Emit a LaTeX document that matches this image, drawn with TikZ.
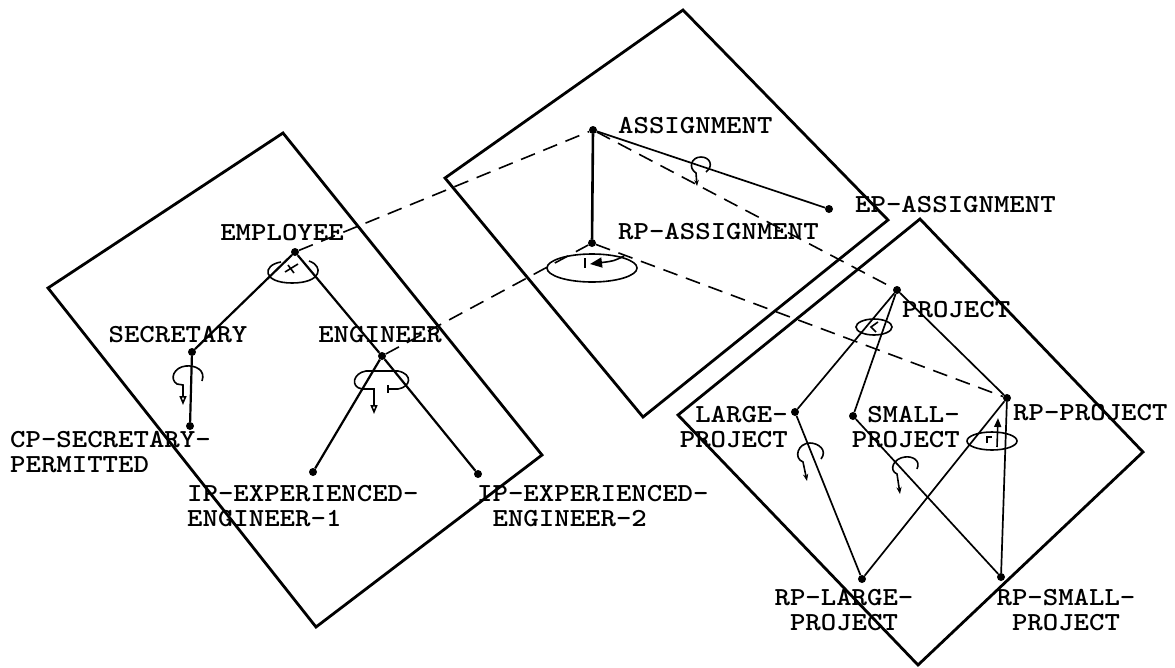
\documentclass[tikz,border=0pt]{standalone}
\usetikzlibrary{arrows.meta, positioning, calc}
\newcommand{\tw}[1]{\scalebox{1.13}[1]{#1}}

\begin{document}
\begin{tikzpicture}[x=1pt, y=-1pt,
    plane/.style={line width=2.8pt, line join=miter},
    arc/.style={line width=2.2pt},
    thinarc/.style={line width=1.7pt},
    link/.style={line width=1.6pt, dash pattern=on 15pt off 9pt},
    curl/.style={line width=1.6pt},
    dot/.style={circle, fill, inner sep=0pt, minimum size=8pt},
    lbl/.style={font=\ttfamily\bfseries\fontsize{26}{25}\selectfont, inner sep=0pt}]
    \useasboundingbox (0,0) rectangle (1175,667);

    % Planes
    \draw[plane] (48,288) -- (283,133) -- (542,455) -- (316,627) -- cycle;
    \draw[plane] (445,178) -- (683,10) -- (888,220) -- (643,417) -- cycle;
    \draw[plane] (678,415) -- (920,219) -- (1143,452) -- (918,665) -- cycle;

    % Employee plane
    \node[dot] (employee) at (295,252) {};
    \node[dot] (secretary) at (192,352) {};
    \node[dot] (cpsec) at (190,426) {};
    \node[dot] (engineer) at (382,356) {};
    \node[dot] (ipeng1) at (313,472) {};
    \node[dot] (ipeng2) at (478,474) {};

    \node[lbl] (employee-lbl) at (282,233) {\tw{EMPLOYEE}};
    \node[lbl] (secretary-lbl) at (178,335) {\tw{SECRETARY}};
    \node[lbl, align=left, anchor=west] (cpsec-lbl) at (10,452)
      {\tw{CP-SECRETARY-}\\\tw{PERMITTED}};
    \node[lbl] (engineer-lbl) at (380,335) {\tw{ENGINEER}};
    \node[lbl, align=left, anchor=west] (ipeng1-lbl) at (187,506)
      {\tw{IP-EXPERIENCED-}\\\tw{ENGINEER-1}};
    \node[lbl, align=left, anchor=west] (ipeng2-lbl) at (477,506)
      {\tw{IP-EXPERIENCED-}\\\tw{\hphantom{I}ENGINEER-2}};

    \draw[arc] (employee) -- (secretary);
    \draw[arc] (employee) -- (engineer);
    \draw[arc] (secretary) -- (cpsec);
    \draw[arc] (engineer) -- (ipeng1);
    \draw[arc] (engineer) -- (ipeng2);

    % Loops
    \draw[curl] (281,262) .. controls (262,265) and (262,283) .. (292,283)
      .. controls (322,283) and (324,266) .. (309,261);
    \draw[curl] (298,264) -- (285,272) (288,265) -- (294,273);
    \draw[curl, -{Triangle[open, length=9pt, width=7pt]}]
      (202,381) .. controls (206,370) and (195,365) .. (186,366)
      .. controls (174,367) and (169,379) .. (177,384) -- (183,385) -- (183,405);
    \draw[curl, -{Triangle[open, length=9pt, width=7pt]}]
      (388,389) -- (398,389) .. controls (411,387) and (413,374) .. (398,371)
      -- (366,371) .. controls (353,373) and (350,387) .. (362,389)
      -- (374,389) -- (374,414);
    \draw[curl] (388,385) -- (388,393);

    % Assignment plane
    \node[dot] (assign) at (593,130) {};
    \node[dot] (rpassign) at (592,243) {};
    \node[dot] (epassign) at (829,209) {};

    \node[lbl, anchor=west] (assign-lbl) at (618,126) {\tw{ASSIGNMENT}};
    \node[lbl, anchor=west] (rpassign-lbl) at (618,232) {\tw{RP-ASSIGNMENT}};
    \node[lbl, anchor=west] (epassign-lbl) at (855,205) {\tw{EP-ASSIGNMENT}};

    \draw[line width=2.6pt] (assign) -- (rpassign);
    \draw[thinarc] (assign) -- (epassign);

    \draw[curl, -{Stealth[length=6pt]}]
      (706,172) .. controls (714,166) and (710,157) .. (701,157)
      .. controls (691,157) and (688,168) .. (696,173) -- (697,186);
    \draw[curl] (592,268) ellipse [x radius=45pt, y radius=14pt];
    \draw[curl, -{Triangle[length=12pt, width=10pt]}]
      (624,256) .. controls (614,261) .. (590,264);
    \draw[curl] (585,258) -- (585,268);

    % Project plane
    \node[dot] (project) at (897,290) {};
    \node[dot] (large) at (795,412) {};
    \node[dot] (small) at (853,416) {};
    \node[dot] (rpproject) at (1007,398) {};
    \node[dot] (rplarge) at (862,579) {};
    \node[dot] (rpsmall) at (1001,577) {};

    \node[lbl, anchor=west] (project-lbl) at (902,310) {\tw{PROJECT}};
    \node[lbl, align=right, anchor=east] (large-lbl) at (788,427)
      {\tw{LARGE-}\\\tw{PROJECT}};
    \node[lbl, align=right, anchor=east] (small-lbl) at (960,427)
      {\tw{SMALL-}\\\tw{PROJECT}};
    \node[lbl, anchor=west] (rpproject-lbl) at (1013,413) {\tw{RP-PROJECT}};
    \node[lbl, align=center] (rplarge-lbl) at (844,610)
      {\tw{RP-LARGE-}\\\tw{PROJECT}};
    \node[lbl, align=center] (rpsmall-lbl) at (1066,610)
      {\tw{RP-SMALL-}\\\tw{PROJECT}};

    \draw[thinarc] (project) -- (large);
    \draw[thinarc] (project) -- (small);
    \draw[thinarc] (project) -- (rpproject);
    \draw[thinarc] (large) -- (rplarge);
    \draw[thinarc] (small) -- (rpsmall);
    \draw[thinarc] (rpproject) -- (rplarge);
    \draw[thinarc] (rpproject) -- (rpsmall);

    \draw[curl] (874,327) ellipse [x radius=18pt, y radius=8pt];
    \draw[curl] (878,322) -- (871,327) -- (876,332);
    \draw[curl, -{Stealth[length=7pt]}]
      (821,459) .. controls (828,450) and (818,443) .. (810,443)
      .. controls (798,443) and (793,458) .. (803,462) -- (807,481);
    \draw[curl, -{Stealth[length=7pt]}]
      (917,469) .. controls (921,460) and (912,456) .. (905,457)
      .. controls (894,458) and (888,470) .. (897,474) -- (900,494);
    \draw[curl] (992,441) ellipse [x radius=25pt, y radius=9pt];
    \draw[curl, -{Triangle[length=9pt, width=7pt]}] (997,447) -- (998,418);
    \draw[curl] (987,443) -- (987,437) -- (992,437);

    % Links between planes
    \draw[link] (employee) -- (assign);
    \draw[link] (engineer) -- (rpassign);
    \draw[link] (assign) -- (project);
    \draw[link] (rpassign) -- (rpproject);
  \end{tikzpicture}
\end{document}
